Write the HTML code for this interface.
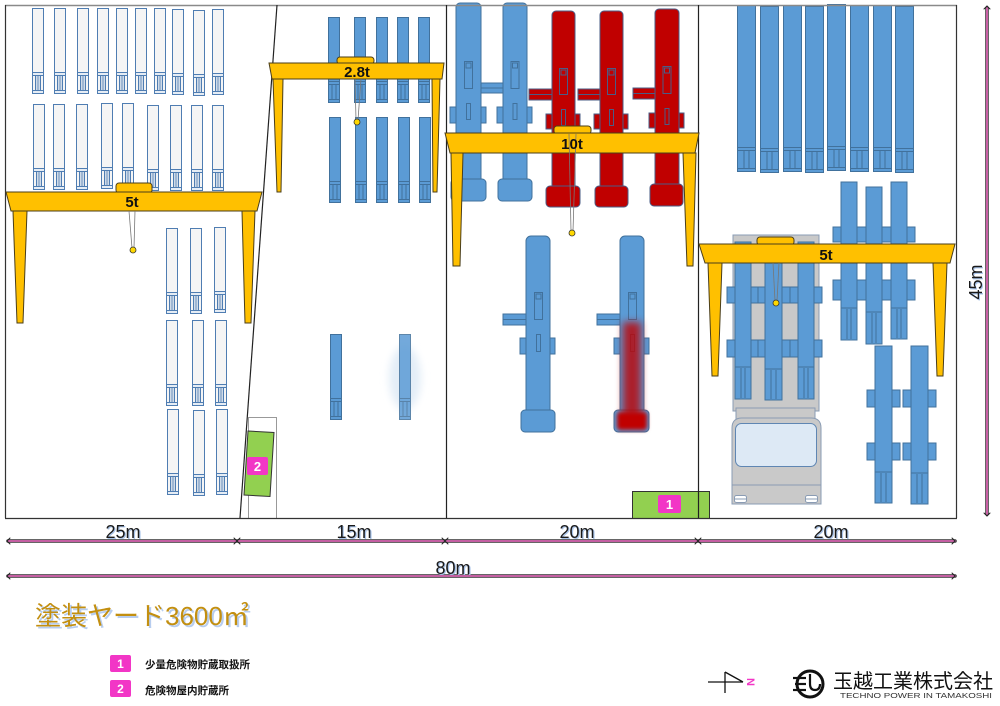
<!DOCTYPE html>
<html><head><meta charset="utf-8"><style>
html,body{margin:0;padding:0;background:#fff;}
svg{display:block;}
</style></head><body>
<svg width="1000" height="706" viewBox="0 0 1000 706" xmlns="http://www.w3.org/2000/svg">
<defs>
<filter id="blur4" x="-50%" y="-50%" width="200%" height="200%"><feGaussianBlur stdDeviation="4"/></filter>
<filter id="blur2" x="-50%" y="-50%" width="200%" height="200%"><feGaussianBlur stdDeviation="2"/></filter>
<g id="lb" stroke="#4f7db2" stroke-width="1">
 <rect x="0.5" y="0.5" width="11" height="85" fill="#f5f5f5"/>
 <rect x="0.5" y="64.5" width="11" height="3" fill="#e6edf5"/>
 <rect x="3.5" y="67.5" width="5" height="15" fill="#cfdbe9"/>
 <line x1="6" y1="68" x2="6" y2="82" stroke="#6f93bd"/>
 <rect x="0.5" y="82.5" width="11" height="3" fill="#e6edf5"/>
</g>
<g id="bb" stroke="#41719c" stroke-width="1">
 <rect x="0.5" y="0.5" width="11" height="85" fill="#5b9bd5"/>
 <rect x="0.5" y="64.5" width="11" height="3" fill="#5b9bd5"/>
 <line x1="4" y1="68" x2="4" y2="82"/>
 <line x1="8" y1="68" x2="8" y2="82"/>
 <rect x="0.5" y="82.5" width="11" height="3" fill="#5b9bd5"/>
</g>
<g id="bt" stroke="#41719c" stroke-width="1">
 <rect x="0.5" y="0.5" width="18" height="166" fill="#5b9bd5"/>
 <rect x="0.5" y="142.5" width="18" height="3" fill="#5b9bd5"/>
 <line x1="7" y1="146" x2="7" y2="163"/>
 <line x1="12" y1="146" x2="12" y2="163"/>
 <rect x="0.5" y="163.5" width="18" height="3" fill="#5b9bd5"/>
</g>
</defs>

<!-- ===== Section 1 light boxes ===== -->
<use href="#lb" x="32" y="8"/><use href="#lb" x="54" y="8"/><use href="#lb" x="77" y="8"/><use href="#lb" x="97" y="8"/><use href="#lb" x="116" y="8"/>
<use href="#lb" x="135" y="8"/><use href="#lb" x="154" y="8"/><use href="#lb" x="172" y="9"/><use href="#lb" x="193" y="10"/><use href="#lb" x="212" y="9"/>
<use href="#lb" x="33" y="104"/><use href="#lb" x="53" y="104"/><use href="#lb" x="76" y="104"/><use href="#lb" x="101" y="103"/><use href="#lb" x="122" y="103"/>
<use href="#lb" x="147" y="105"/><use href="#lb" x="170" y="105"/><use href="#lb" x="191" y="105"/><use href="#lb" x="212" y="105"/>
<use href="#lb" x="166" y="228"/><use href="#lb" x="190" y="228"/><use href="#lb" x="214" y="227"/>
<use href="#lb" x="166" y="320"/><use href="#lb" x="192" y="320"/><use href="#lb" x="215" y="320"/>
<use href="#lb" x="167" y="409"/><use href="#lb" x="193" y="410"/><use href="#lb" x="216" y="409"/>

<!-- ===== Section 2 blue boxes ===== -->
<use href="#bb" x="328" y="17"/><use href="#bb" x="354" y="17"/><use href="#bb" x="376" y="17"/><use href="#bb" x="397" y="17"/><use href="#bb" x="418" y="17"/>
<use href="#bb" x="329" y="117"/><use href="#bb" x="355" y="117"/><use href="#bb" x="376" y="117"/><use href="#bb" x="398" y="117"/><use href="#bb" x="419" y="117"/>
<use href="#bb" x="330" y="334"/>
<ellipse cx="405" cy="378" rx="16" ry="32" fill="#e3edf7" filter="url(#blur4)"/>
<g opacity="0.85"><use href="#bb" x="399" y="334"/></g>

<!-- small storage area 2 -->
<rect x="248.5" y="417.5" width="28" height="101" fill="#fff" stroke="#999" stroke-width="1"/>
<polygon points="248,431 274,432.5 270,496.5 244,495" fill="#92d050" stroke="#333" stroke-width="1"/>
<rect x="247" y="457" width="21" height="18" rx="2" fill="#f236c6"/>
<text x="257.5" y="471" font-family="Liberation Sans, sans-serif" font-size="13" font-weight="bold" fill="#fff" text-anchor="middle">2</text>

<!-- ===== Section 3 columns ===== -->
<g fill="#5b9bd5" stroke="#41719c" stroke-width="1">
 <rect x="456" y="3" width="25" height="182" rx="4"/>
 <rect x="450" y="107" width="6" height="16"/><rect x="481" y="107" width="5" height="16"/>
 <rect x="451" y="179" width="35" height="22" rx="4"/>
 <rect x="464.5" y="61.5" width="8" height="27" fill="none"/><rect x="466" y="63" width="5" height="5" fill="none"/>
 <rect x="466.5" y="103.5" width="4" height="16" fill="none"/>
 <rect x="481" y="83" width="22" height="10"/><line x1="481" y1="88" x2="503" y2="88"/>
 <rect x="503" y="3" width="24" height="182" rx="4"/>
 <rect x="497" y="107" width="6" height="16"/><rect x="527" y="107" width="5" height="16"/>
 <rect x="498" y="179" width="34" height="22" rx="4"/>
 <rect x="511" y="61.5" width="8" height="27" fill="none"/><rect x="512.5" y="63" width="5" height="5" fill="none"/>
 <rect x="513" y="103.5" width="4" height="16" fill="none"/>
</g>
<g fill="#c00000" stroke="#4a5c86" stroke-width="1">
 <rect x="552" y="11" width="23" height="180" rx="4"/>
 <rect x="529" y="89" width="23" height="11"/><line x1="529" y1="94.5" x2="552" y2="94.5"/>
 <rect x="546" y="114" width="6" height="15"/><rect x="575" y="114" width="5" height="15"/>
 <rect x="546" y="186" width="34" height="21" rx="4"/>
 <rect x="559.5" y="68.5" width="8" height="26" fill="none"/><rect x="561" y="70" width="5" height="5" fill="none"/>
 <rect x="561.5" y="109.5" width="4" height="16" fill="none"/>
 <rect x="600" y="11" width="23" height="180" rx="4"/>
 <rect x="578" y="89" width="22" height="11"/><line x1="578" y1="94.5" x2="600" y2="94.5"/>
 <rect x="594" y="114" width="6" height="15"/><rect x="623" y="114" width="5" height="15"/>
 <rect x="595" y="186" width="33" height="21" rx="4"/>
 <rect x="607.5" y="68.5" width="8" height="26" fill="none"/><rect x="609" y="70" width="5" height="5" fill="none"/>
 <rect x="609.5" y="109.5" width="4" height="16" fill="none"/>
 <rect x="655" y="9" width="24" height="180" rx="4"/>
 <rect x="633" y="88" width="22" height="11"/><line x1="633" y1="93.5" x2="655" y2="93.5"/>
 <rect x="649" y="113" width="6" height="15"/><rect x="679" y="113" width="5" height="15"/>
 <rect x="650" y="184" width="33" height="22" rx="4"/>
 <rect x="663" y="66.5" width="8" height="27" fill="none"/><rect x="664.5" y="68" width="5" height="5" fill="none"/>
 <rect x="665" y="108.5" width="4" height="16" fill="none"/>
</g>
<g fill="#5b9bd5" stroke="#41719c" stroke-width="1">
 <rect x="526" y="236" width="24" height="178" rx="5"/>
 <rect x="503" y="314" width="23" height="11"/><line x1="503" y1="319.5" x2="526" y2="319.5"/>
 <rect x="520" y="338" width="6" height="16"/><rect x="550" y="338" width="5" height="16"/>
 <rect x="521" y="410" width="34" height="22" rx="4"/>
 <rect x="534.5" y="292.5" width="8" height="27" fill="none"/><rect x="536" y="294" width="5" height="5" fill="none"/>
 <rect x="536.5" y="334.5" width="4" height="17" fill="none"/>
 <rect x="620" y="236" width="24" height="178" rx="5"/>
 <rect x="597" y="314" width="23" height="11"/><line x1="597" y1="319.5" x2="620" y2="319.5"/>
 <rect x="614" y="338" width="6" height="16"/><rect x="644" y="338" width="5" height="16"/>
 <rect x="614" y="410" width="35" height="22" rx="4"/>
 <rect x="628.5" y="292.5" width="8" height="27" fill="none"/><rect x="630" y="294" width="5" height="5" fill="none"/>
 <rect x="630.5" y="334.5" width="4" height="17" fill="none"/>
</g>
<rect x="623" y="322" width="18" height="96" fill="#c00000" opacity="0.8" filter="url(#blur4)"/>
<rect x="617" y="412" width="30" height="18" rx="3" fill="#c00000" filter="url(#blur2)"/>

<!-- storage area 1 -->
<rect x="632.5" y="491.5" width="77" height="27" fill="#92d050" stroke="#333" stroke-width="1"/>
<rect x="658" y="495" width="23" height="18" rx="2" fill="#f236c6"/>
<text x="669.5" y="509" font-family="Liberation Sans, sans-serif" font-size="13" font-weight="bold" fill="#fff" text-anchor="middle">1</text>

<!-- ===== Section 4 ===== -->
<use href="#bt" x="737" y="5"/><use href="#bt" x="760" y="6"/><use href="#bt" x="783" y="5"/><use href="#bt" x="805" y="6"/>
<use href="#bt" x="827" y="4"/><use href="#bt" x="850" y="5"/><use href="#bt" x="873" y="5"/><use href="#bt" x="895" y="6"/>

<g stroke="#8a9cb4" stroke-width="1">
 <rect x="733" y="235" width="86" height="176" fill="#c9c9c9"/>
 <rect x="736" y="408" width="79" height="11" fill="#c9c9c9"/>
 <path d="M732,504 L732,428 Q732,418 742,418 L811,418 Q821,418 821,428 L821,504 Z" fill="#c9c9c9"/>
 <rect x="735.5" y="423.5" width="81" height="43" rx="6" fill="#dde9f5" stroke="#5f86b3"/>
 <line x1="732" y1="485" x2="821" y2="485"/>
 <rect x="734.5" y="495.5" width="12" height="7" rx="2" fill="#fff"/>
 <rect x="805.5" y="495.5" width="12" height="7" rx="2" fill="#fff"/>
 <line x1="735" y1="499" x2="746" y2="499"/><line x1="806" y1="499" x2="817" y2="499"/>
</g>
<g fill="#5b9bd5" stroke="#41719c" stroke-width="1">
 <rect x="735" y="242" width="16" height="157"/>
 <rect x="765" y="242" width="17" height="158"/>
 <rect x="798" y="242" width="16" height="157"/>
 <rect x="727" y="287" width="8" height="16"/><rect x="751" y="287" width="7" height="16"/>
 <rect x="758" y="287" width="7" height="16"/><rect x="782" y="287" width="8" height="16"/>
 <rect x="790" y="287" width="8" height="16"/><rect x="814" y="287" width="8" height="16"/>
 <rect x="727" y="340" width="8" height="17"/><rect x="751" y="340" width="7" height="17"/>
 <rect x="758" y="340" width="7" height="17"/><rect x="782" y="340" width="8" height="17"/>
 <rect x="790" y="340" width="8" height="17"/><rect x="814" y="340" width="8" height="17"/>
 <line x1="735" y1="367" x2="751" y2="367"/><line x1="765" y1="369" x2="782" y2="369"/><line x1="798" y1="367" x2="814" y2="367"/>
 <line x1="741" y1="368" x2="741" y2="398"/><line x1="745" y1="368" x2="745" y2="398"/>
 <line x1="771" y1="370" x2="771" y2="399"/><line x1="776" y1="370" x2="776" y2="399"/>
 <line x1="804" y1="368" x2="804" y2="398"/><line x1="808" y1="368" x2="808" y2="398"/>

 <rect x="833" y="227" width="8" height="15"/><rect x="857" y="227" width="9" height="15"/>
 <rect x="882" y="227" width="9" height="15"/><rect x="907" y="227" width="8" height="15"/>
 <rect x="833" y="280" width="8" height="20"/><rect x="857" y="280" width="9" height="20"/>
 <rect x="882" y="280" width="9" height="20"/><rect x="907" y="280" width="8" height="20"/>
 <rect x="841" y="182" width="16" height="158"/>
 <rect x="866" y="187" width="16" height="157"/>
 <rect x="891" y="182" width="16" height="157"/>
 <line x1="841" y1="308" x2="857" y2="308"/><line x1="866" y1="312" x2="882" y2="312"/><line x1="891" y1="308" x2="907" y2="308"/>
 <line x1="847" y1="309" x2="847" y2="339"/><line x1="851" y1="309" x2="851" y2="339"/>
 <line x1="872" y1="313" x2="872" y2="343"/><line x1="876" y1="313" x2="876" y2="343"/>
 <line x1="897" y1="309" x2="897" y2="338"/><line x1="901" y1="309" x2="901" y2="338"/>

 <rect x="875" y="346" width="17" height="157"/>
 <rect x="911" y="346" width="17" height="158"/>
 <rect x="867" y="390" width="8" height="17"/><rect x="892" y="390" width="8" height="17"/>
 <rect x="903" y="390" width="8" height="17"/><rect x="928" y="390" width="8" height="17"/>
 <rect x="867" y="443" width="8" height="17"/><rect x="892" y="443" width="8" height="17"/>
 <rect x="903" y="443" width="8" height="17"/><rect x="928" y="443" width="8" height="17"/>
 <line x1="875" y1="472" x2="892" y2="472"/><line x1="911" y1="473" x2="928" y2="473"/>
 <line x1="881" y1="473" x2="881" y2="502"/><line x1="886" y1="473" x2="886" y2="502"/>
 <line x1="917" y1="474" x2="917" y2="503"/><line x1="922" y1="474" x2="922" y2="503"/>
</g>

<!-- ===== Borders ===== -->
<line x1="5" y1="5.5" x2="957" y2="5.5" stroke="#8a8a8a" stroke-width="1.5"/>
<line x1="5.5" y1="5" x2="5.5" y2="518" stroke="#333" stroke-width="1.2"/>
<line x1="956.5" y1="5" x2="956.5" y2="518" stroke="#333" stroke-width="1.2"/>
<line x1="5" y1="518.5" x2="957" y2="518.5" stroke="#333" stroke-width="1.2"/>
<line x1="277" y1="5" x2="240" y2="518" stroke="#222" stroke-width="1.2"/>
<line x1="446.5" y1="5" x2="446.5" y2="518" stroke="#222" stroke-width="1.2"/>
<line x1="698.5" y1="5" x2="698.5" y2="518" stroke="#222" stroke-width="1.2"/>

<!-- ===== Cranes ===== -->
<g fill="#ffc000" stroke="#4a3e1a" stroke-width="1">
 <polygon points="13,211 27,211 23,323 17,323"/>
 <polygon points="242,211 255,211 251,323 245,323"/>
 <rect x="116" y="183" width="36" height="10" rx="3"/>
 <polygon points="6,192 262,192 257,211 11,211"/>
 <polygon points="273,79 283,79 281,192 277,192"/>
 <polygon points="432,79 440,79 437,192 433,192"/>
 <rect x="337" y="57" width="37" height="7" rx="3"/>
 <polygon points="269,63 444,63 442,79 272,79"/>
 <polygon points="451,153 463,153 460,266 453,266"/>
 <polygon points="683,153 696,153 693,266 687,266"/>
 <rect x="554" y="126" width="37" height="8" rx="3"/>
 <polygon points="445,133 699,133 695,153 450,153"/>
 <polygon points="708,263 722,263 718,376 712,376"/>
 <polygon points="933,263 947,263 943,376 937,376"/>
 <rect x="757" y="237" width="37" height="8" rx="3"/>
 <polygon points="699,244 955,244 950,263 705,263"/>
</g>
<g stroke="#777" stroke-width="0.8" fill="none">
 <line x1="129" y1="211" x2="132" y2="248"/><line x1="135" y1="211" x2="134" y2="248"/>
 <line x1="355" y1="79" x2="356" y2="120"/><line x1="361" y1="79" x2="358" y2="120"/>
 <line x1="569" y1="134" x2="571" y2="231"/><line x1="576" y1="134" x2="573" y2="231"/>
 <line x1="773" y1="263" x2="775" y2="301"/><line x1="779" y1="263" x2="777" y2="301"/>
</g>
<g fill="#ffd800" stroke="#333" stroke-width="0.8">
 <circle cx="133" cy="250" r="3"/><circle cx="357" cy="122" r="3"/>
 <circle cx="572" cy="233" r="3"/><circle cx="776" cy="303" r="3"/>
</g>
<g font-family="Liberation Sans, sans-serif" font-size="15" font-weight="bold" fill="#111" text-anchor="middle">
 <text x="132" y="207">5t</text>
 <text x="357" y="77">2.8t</text>
 <text x="572" y="149">10t</text>
 <text x="826" y="260">5t</text>
</g>

<!-- ===== Dimensions ===== -->
<g fill="none" stroke-linecap="round">
 <line x1="8" y1="541" x2="955" y2="541" stroke="#333" stroke-width="3.5"/>
 <line x1="8" y1="541" x2="955" y2="541" stroke="#d966b2" stroke-width="1.8"/>
 <line x1="8" y1="576" x2="955" y2="576" stroke="#333" stroke-width="3.5"/>
 <line x1="8" y1="576" x2="955" y2="576" stroke="#d966b2" stroke-width="1.8"/>
 <line x1="987" y1="8" x2="987" y2="514" stroke="#333" stroke-width="3.5"/>
 <line x1="987" y1="8" x2="987" y2="514" stroke="#d966b2" stroke-width="1.8"/>
 <g stroke="#222" stroke-width="1">
  <polyline points="10,538 7,541 10,544"/><polyline points="952,538 955,541 952,544"/>
  <polyline points="10,573 7,576 10,579"/><polyline points="952,573 955,576 952,579"/>
  <polyline points="234,538 237,541 234,544"/><polyline points="240,538 237,541 240,544"/>
  <polyline points="442,538 445,541 442,544"/><polyline points="448,538 445,541 448,544"/>
  <polyline points="695,538 698,541 695,544"/><polyline points="701,538 698,541 701,544"/>
  <polyline points="984,9 987,6 990,9"/><polyline points="984,513 987,516 990,513"/>
 </g>
</g>
<g font-family="Liberation Sans, sans-serif" font-size="18" text-anchor="middle">
 <g fill="#a9c4ea" transform="translate(1.2,1.2)">
  <text x="123" y="538">25m</text><text x="354" y="538">15m</text>
  <text x="577" y="538">20m</text><text x="831" y="538">20m</text>
  <text x="453" y="574">80m</text>
  <text transform="translate(982,282) rotate(-90)">45m</text>
 </g>
 <g fill="#1a1a1a">
  <text x="123" y="538">25m</text><text x="354" y="538">15m</text>
  <text x="577" y="538">20m</text><text x="831" y="538">20m</text>
  <text x="453" y="574">80m</text>
  <text transform="translate(982,282) rotate(-90)">45m</text>
 </g>
</g>

<!-- ===== Title ===== -->
<g font-family="Liberation Sans, 'Noto Sans CJK JP', sans-serif" font-size="26">
 <text x="37" y="627" fill="#b7cdef">塗装ヤード3600㎡</text>
 <text x="35" y="625" fill="#c38f10">塗装ヤード3600㎡</text>
</g>

<!-- ===== Legend ===== -->
<rect x="110" y="655" width="21" height="17" rx="2" fill="#f236c6"/>
<rect x="110" y="680" width="21" height="17" rx="2" fill="#f236c6"/>
<g font-family="Liberation Sans, sans-serif" font-size="12" font-weight="bold" fill="#fff" text-anchor="middle">
 <text x="120.5" y="668">1</text><text x="120.5" y="693">2</text>
</g>
<g font-family="Liberation Sans, 'Noto Sans CJK JP', sans-serif" font-size="10.5" font-weight="bold" fill="#111">
 <text x="145" y="668">少量危険物貯蔵取扱所</text>
 <text x="145" y="694">危険物屋内貯蔵所</text>
</g>

<!-- ===== North arrow ===== -->
<g stroke="#111" stroke-width="1.3" fill="none">
 <line x1="708" y1="682" x2="743" y2="682"/>
 <line x1="725" y1="672" x2="725" y2="693"/>
 <line x1="725" y1="672" x2="743" y2="682"/>
</g>
<text transform="translate(750,682) rotate(90)" font-family="Liberation Sans, sans-serif" font-size="11" font-weight="bold" fill="#f236c6" text-anchor="middle" dominant-baseline="central">N</text>

<!-- ===== Company logo ===== -->
<g stroke="#111" fill="none">
 <circle cx="810" cy="684" r="13" stroke-width="3"/>
 <line x1="793" y1="678" x2="806" y2="678" stroke-width="2.2"/>
 <line x1="795" y1="684" x2="806" y2="684" stroke-width="2.2"/>
 <line x1="793" y1="690" x2="806" y2="690" stroke-width="2.2"/>
 <path d="M810,674 L810,684 Q810,690 815,690 Q820,690 820,684" stroke-width="2.2"/>
</g>
<text x="833" y="688" font-family="'Noto Sans CJK JP', sans-serif" font-size="20" fill="#111">玉越工業株式会社</text>
<text x="840" y="698" font-family="Liberation Sans, sans-serif" font-size="7.5" fill="#333" textLength="152" lengthAdjust="spacingAndGlyphs">TECHNO POWER IN TAMAKOSHI</text>
</svg>
</body></html>
